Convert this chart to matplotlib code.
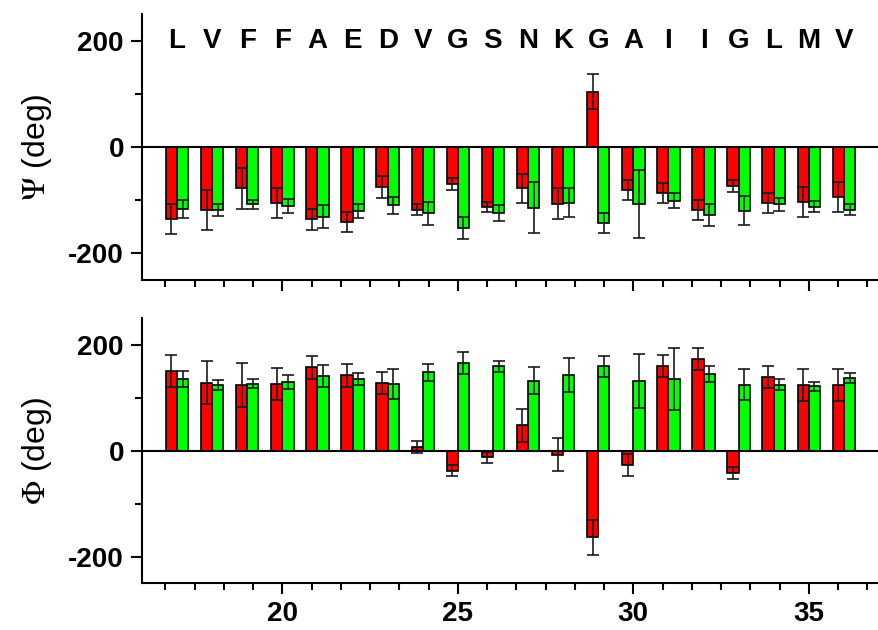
import numpy as np
import matplotlib.pyplot as plt
from matplotlib.ticker import MultipleLocator

plt.rcParams['font.family'] = ['Liberation Sans', 'DejaVu Sans']
plt.rcParams['mathtext.fontset'] = 'stix'
plt.rcParams['axes.unicode_minus'] = False

residues = np.arange(17, 37)
letters = ["L", "V", "F", "F", "A", "E", "D", "V", "G", "S",
           "N", "K", "G", "A", "I", "I", "G", "L", "M", "V"]

# Psi angles (deg): red / green sets with errors
psi_red = [-135, -119, -78, -106, -136, -141, -75, -118, -70, -113,
           -78, -107, 104, -81, -86, -118, -74, -106, -104, -94]
psi_red_err = [28, 38, 39, 28, 20, 19, 20, 10, 11, 9,
               28, 29, 33, 19, 19, 19, 11, 19, 28, 28]
psi_green = [-116, -118, -108, -111, -131, -120, -110, -125, -152, -125,
             -114, -105, -143, -108, -101, -128, -120, -108, -112, -118]
psi_green_err = [17, 11, 9, 13, 21, 13, 16, 21, 21, 15,
                 48, 27, 19, 64, 14, 20, 27, 12, 10, 10]

# Phi angles (deg)
phi_red = [150, 128, 124, 126, 157, 142, 128, 7, -38, -13,
           48, -8, -164, -27, 159, 173, -43, 139, 124, 124]
phi_red_err = [31, 40, 41, 30, 22, 22, 21, 11, 11, 10,
               31, 31, 33, 21, 21, 21, 11, 21, 30, 30]
phi_green = [135, 124, 126, 130, 140, 135, 126, 148, 165, 159,
             132, 143, 159, 132, 135, 144, 124, 124, 121, 137]
phi_green_err = [15, 9, 8, 13, 21, 12, 28, 16, 21, 10,
                 26, 32, 20, 51, 59, 15, 29, 10, 9, 10]

w = 0.32
fig = plt.figure(figsize=(8.79, 6.3), dpi=100)
ax1 = fig.add_axes([0.1615, 0.5556, 0.8385, 0.4222])
ax2 = fig.add_axes([0.1615, 0.0746, 0.8385, 0.4206])

def draw(ax, red, red_err, green, green_err):
    ax.bar(residues - w/2, red, w, color="#ff0000", edgecolor="black", lw=1.2, zorder=2)
    ax.bar(residues + w/2, green, w, color="#00ff00", edgecolor="black", lw=1.2, zorder=2)
    ax.errorbar(residues - w/2, red, yerr=red_err, fmt="none", ecolor="0.1",
                elinewidth=1.2, capsize=4, capthick=1.2, zorder=3)
    ax.errorbar(residues + w/2, green, yerr=green_err, fmt="none", ecolor="0.1",
                elinewidth=1.2, capsize=4, capthick=1.2, zorder=3)
    ax.axhline(0, color="black", lw=1.5, zorder=4)
    ax.set_xlim(16, 37)
    ax.set_ylim(-250, 250)
    ax.set_yticks([-200, 0, 200])
    ax.yaxis.set_minor_locator(MultipleLocator(100))
    ax.xaxis.set_major_locator(MultipleLocator(5))
    ax.xaxis.set_minor_locator(MultipleLocator(5/6))
    for s in ["top", "right"]:
        ax.spines[s].set_visible(False)
    for s in ["left", "bottom"]:
        ax.spines[s].set_linewidth(1.5)
    ax.tick_params(which="major", direction="out", length=8, width=1.5, labelsize=20, pad=5)
    ax.tick_params(which="minor", direction="out", length=5, width=1.5)
    for lab in ax.get_xticklabels() + ax.get_yticklabels():
        lab.set_fontweight("bold")

draw(ax1, psi_red, psi_red_err, psi_green, psi_green_err)
draw(ax2, phi_red, phi_red_err, phi_green, phi_green_err)
ax1.tick_params(axis="x", labelbottom=False)

for x, s in zip(residues, letters):
    ax1.text(x, 200, s, ha="center", va="center", fontsize=20, fontweight="bold")

ax1.set_ylabel(r"$\Psi$ (deg)", fontsize=23, labelpad=10)
ax2.set_ylabel(r"$\Phi$ (deg)", fontsize=23, labelpad=10)

plt.savefig("out.png", dpi=100)
